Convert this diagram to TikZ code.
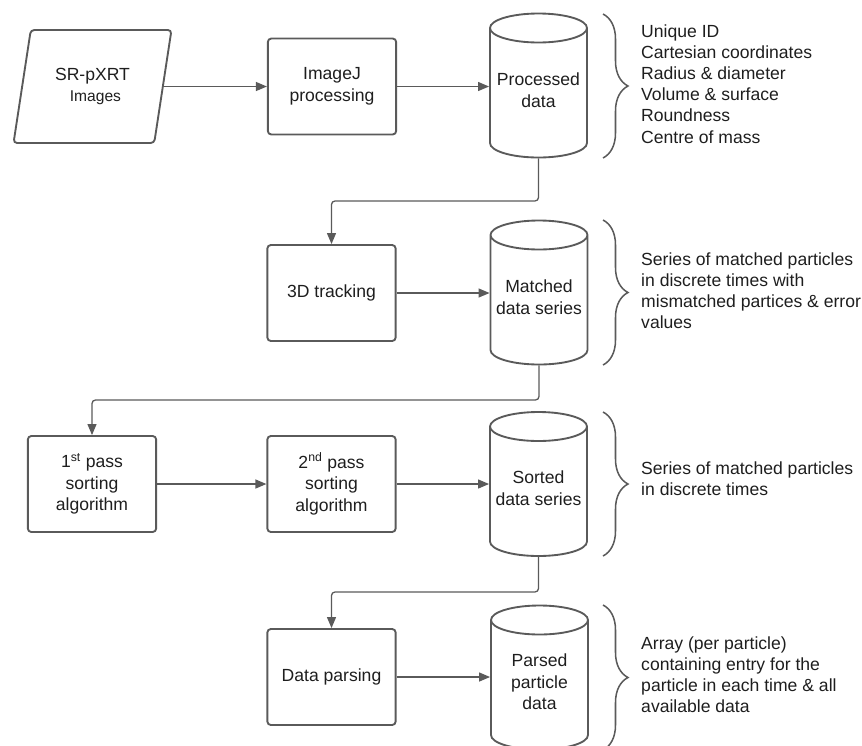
\documentclass[tikz,border=0pt]{standalone}
\usepackage{fontspec}
\setmainfont{Liberation Sans}
\usetikzlibrary{arrows.meta,shapes.geometric,decorations.pathreplacing}
\definecolor{edge}{HTML}{5A5A5A}
\definecolor{ink}{HTML}{1E1E1E}
\tikzset{
  stepbox/.style={draw=edge,rounded corners=3pt,line width=1.6pt,minimum width=3.85cm,
    minimum height=2.88cm,align=center,text=ink,font=\fontsize{15}{18.5}\selectfont},
  inbox/.style={trapezium,trapezium left angle=75.6,trapezium right angle=104.4,
    trapezium stretches=true,draw=edge,rounded corners=3pt,line width=1.6pt,
    minimum width=4.77cm,minimum height=3.39cm,align=center,text=ink,
    font=\fontsize{15}{18.5}\selectfont},
  store/.style={cylinder,shape border rotate=90,aspect=0.87,inner sep=0.5cm,draw=edge,
    line width=1.6pt,minimum width=2.91cm,minimum height=4.32cm,anchor=shape center},
  storetext/.style={align=center,text=ink,font=\fontsize{15}{18.5}\selectfont},
  link/.style={draw=edge,-{Triangle[length=0.33cm,width=0.27cm]},line width=1.1pt,
    rounded corners=3pt},
  curly/.style={draw=edge,line width=1.3pt,decorate,
    decoration={brace,amplitude=0.75cm}},
  note/.style={anchor=west,align=left,inner sep=0pt,text=ink,
    font=\fontsize{15}{18}\selectfont},
}
\begin{document}
\begin{tikzpicture}[x=0.03cm,y=-0.03cm]
  \useasboundingbox (0,0) rectangle (862,745);

  % Row 1: images to processed data.
  \node[inbox] (src) at (92.5,86.5)
    {SR-pXRT\\{\fontsize{13.3}{16}\selectfont\hspace{5pt}Images}};
  \node[stepbox] (imj) at (332,86.5) {ImageJ\\processing};
  \node[store] (proc) at (538.5,85.5) {};
  \node[storetext] (proc-txt) at (538.5,90) {Processed\\data};
  \draw[link] (src.east |- imj.west) -- (imj.west);
  \draw[link] (imj.east) -- (imj.east -| proc.west);
  \draw[curly] (603,14) -- (603,158);
  \node[note] (procinfo) at (641,84)
    {Unique ID\\Cartesian coordinates\\Radius \& diameter\\Volume \& surface\\Roundness\\Centre of mass};

  % Row 2: tracking.
  \node[stepbox] (trk) at (331.5,293) {3D tracking};
  \node[store] (mat) at (539,292.5) {};
  \node[storetext] (mat-txt) at (539,297) {Matched\\data series};
  \draw[link] (proc.south) -- (proc.south |- 0,201) -| (trk.north);
  \draw[link] (trk.east) -- (trk.east -| mat.west);
  \draw[curly] (603,220) -- (603,365);
  \node[note] (matinfo) at (641,291)
    {Series of matched particles\\in discrete times with\\mismatched partices \& error\\values};

  % Row 3: two sorting passes.
  \node[stepbox] (pass1) at (92,484) {1\textsuperscript{st} pass\\sorting\\algorithm};
  \node[stepbox] (pass2) at (331.5,484) {2\textsuperscript{nd} pass\\sorting\\algorithm};
  \node[store] (sort) at (538.5,484) {};
  \node[storetext] (sort-txt) at (538.5,488) {Sorted\\data series};
  \draw[link] (mat.south) -- (mat.south |- 0,400) -| (pass1.north);
  \draw[link] (pass1.east) -- (pass2.west);
  \draw[link] (pass2.east) -- (pass2.east -| sort.west);
  \draw[curly] (603,412) -- (603,556);
  \node[note] (sortinfo) at (641,479)
    {Series of matched particles\\in discrete times};

  % Row 4: parsing.
  \node[stepbox] (prs) at (331.5,677) {Data parsing};
  \node[store] (parsed) at (539.5,677.5) {};
  \node[storetext] (parsed-txt) at (539.5,682) {Parsed\\particle\\data};
  \draw[link] (sort.south) -- (sort.south |- 0,592) -| (prs.north);
  \draw[link] (prs.east) -- (prs.east -| parsed.west);
  \draw[curly] (603,605) -- (603,750);
  \node[note] (parsedinfo) at (641,675)
    {Array (per particle)\\containing entry for the\\particle in each time \& all\\available data};
\end{tikzpicture}
\end{document}
